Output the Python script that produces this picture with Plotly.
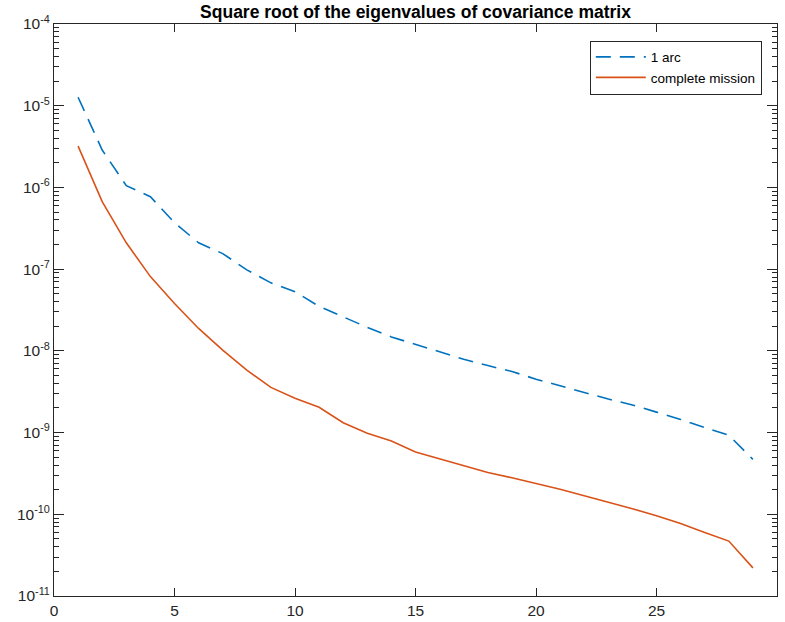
import plotly.graph_objects as go

x_idx = list(range(1, 30))
one_arc = [1.27e-5, 2.87e-6, 1.05e-6, 7.7e-7, 3.7e-7, 2.1e-7, 1.55e-7, 9.8e-8, 6.8e-8,
           5.3e-8, 3.5e-8, 2.6e-8, 1.94e-8, 1.48e-8, 1.2e-8, 9.8e-9, 7.9e-9, 6.6e-9,
           5.6e-9, 4.5e-9, 3.7e-9, 3.1e-9, 2.57e-9, 2.18e-9, 1.78e-9, 1.45e-9, 1.15e-9,
           9.3e-10, 4.7e-10]
complete = [3.2e-6, 6.7e-7, 2.1e-7, 8.1e-8, 3.8e-8, 1.88e-8, 1.02e-8, 5.8e-9, 3.57e-9,
            2.63e-9, 2.04e-9, 1.32e-9, 9.8e-10, 7.9e-10, 5.8e-10, 4.8e-10, 3.9e-10, 3.24e-10,
            2.8e-10, 2.39e-10, 2.02e-10, 1.69e-10, 1.41e-10, 1.17e-10, 9.6e-11, 7.7e-11,
            6.0e-11, 4.7e-11, 2.21e-11]
x_ticks = [0, 5, 10, 15, 20, 25, 30]
y_exps = [-11, -10, -9, -8, -7, -6, -5, -4]
minor_digits = [2, 3, 4, 5, 6, 7, 8, 9]

FONT = "Liberation Sans, Arial, Helvetica, sans-serif"
AX = "#262626"

fig = go.Figure()
fig.add_trace(go.Scatter(x=x_idx, y=one_arc, mode="lines", name="1 arc",
                         line=dict(color="#0072BD", width=1.6, dash="15px,9px")))
fig.add_trace(go.Scatter(x=x_idx, y=complete, mode="lines", name="complete mission",
                         line=dict(color="#D95319", width=1.6)))
# invisible helper point so the minor-tick overlay axis gets drawn
fig.add_trace(go.Scatter(x=[x_idx[0]], y=[one_arc[0]], yaxis="y2", mode="markers",
                         marker=dict(opacity=0, size=1), showlegend=False, hoverinfo="skip"))

axis_common = dict(showgrid=False, zeroline=False, showline=True, linecolor=AX,
                   linewidth=1, mirror="ticks", ticks="inside", tickcolor=AX,
                   automargin=False,
                   tickfont=dict(family=FONT, size=15.5, color=AX))

fig.update_xaxes(range=[0, 30], tickvals=x_ticks, ticklen=8, **axis_common)
fig.update_yaxes(type="log", range=[y_exps[0], y_exps[-1]],
                 tickvals=[10.0 ** e for e in y_exps],
                 ticktext=[f"10<sup>{e}</sup>" for e in y_exps],
                 ticklen=10,
                 minor=dict(ticks="inside", ticklen=5, tickcolor=AX, dtick="D1", showgrid=False),
                 **axis_common)

minor_vals = [d * 10.0 ** e for e in y_exps[:-1] for d in minor_digits]

fig.update_layout(
    width=785, height=622,
    margin=dict(l=54, r=8, t=24, b=26),
    paper_bgcolor="white", plot_bgcolor="white",
    yaxis2=dict(type="log", range=[y_exps[0], y_exps[-1]], overlaying="y", side="left",
                anchor="x", tickvals=minor_vals, ticktext=[""] * len(minor_vals),
                ticks="inside", ticklen=5, tickcolor=AX, tickwidth=1,
                showticklabels=True, showgrid=False, zeroline=False, showline=False,
                mirror="ticks", automargin=False),
    title=dict(text="<b>Square root of the eigenvalues of covariance matrix</b>",
               x=415.5 / 785, xanchor="center", y=1 - 12 / 622, yanchor="middle",
               font=dict(family=FONT, size=17.5, color="black")),
    legend=dict(x=0.979, y=0.971, xanchor="right", yanchor="top",
                bordercolor=AX, borderwidth=1, bgcolor="white",
                font=dict(family=FONT, size=13.5, color="black"),
                tracegroupgap=0, itemwidth=50),
    showlegend=True,
)

fig.write_html("out.html", config={"displayModeBar": False},
               post_script="document.body.style.margin='0';document.body.style.overflow='hidden';")
